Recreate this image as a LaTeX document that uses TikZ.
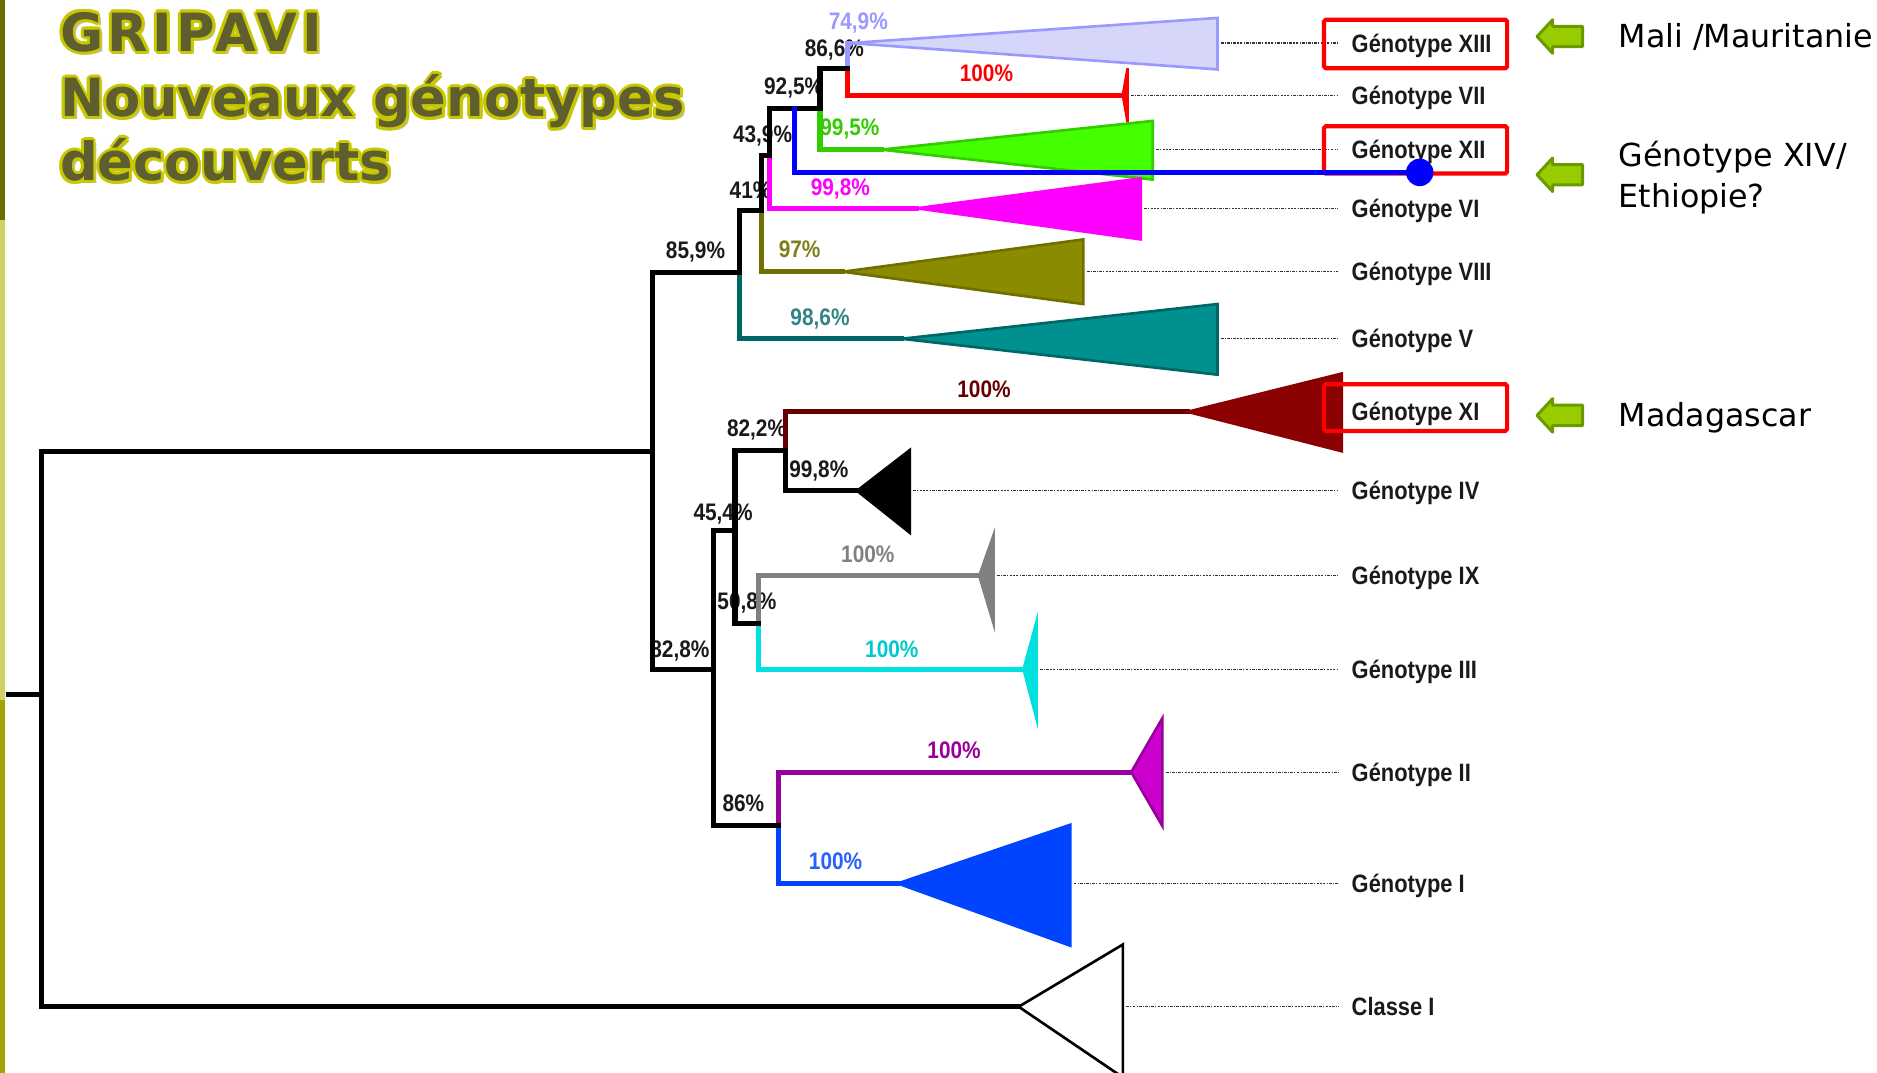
\documentclass[tikz,border=0pt]{standalone}
\usepackage{fontspec}
\usetikzlibrary{calc}
\newfontfamily\genofont{Liberation Sans}[FakeStretch=0.87]
\newfontfamily\titlefont{DejaVu Sans}
\newfontfamily\titlewide{DejaVu Sans}[LetterSpace=8.5]
\newfontfamily\notefont{DejaVu Sans}
\definecolor{olivedark}{HTML}{6B6B00}
\definecolor{olivelight}{HTML}{D0D068}
\definecolor{olivemid}{HTML}{A3A300}
\definecolor{titlefill}{HTML}{5E5E2E}
\definecolor{titleglow}{HTML}{C8C800}
\definecolor{lavline}{HTML}{9999FF}
\definecolor{lavfill}{HTML}{D6D6FA}
\definecolor{grnline}{HTML}{33CC00}
\definecolor{grnfill}{HTML}{44FF00}
\definecolor{magen}{HTML}{FF00FF}
\definecolor{oliveline}{HTML}{707000}
\definecolor{olivefill}{HTML}{8B8B00}
\definecolor{tealline}{HTML}{006666}
\definecolor{tealfill}{HTML}{009090}
\definecolor{dredline}{HTML}{660000}
\definecolor{dredfill}{HTML}{8B0000}
\definecolor{grayb}{HTML}{808080}
\definecolor{cyanb}{HTML}{00E0E0}
\definecolor{purpline}{HTML}{990099}
\definecolor{purpfill}{HTML}{CC00CC}
\definecolor{blueone}{HTML}{0044FF}
\definecolor{bluexiv}{HTML}{0000FF}
\definecolor{arrowfill}{HTML}{99CC00}
\definecolor{arrowline}{HTML}{6B9900}
\definecolor{pctblack}{HTML}{1A1A1A}
\tikzset{
 tree/.style={line width=4.2pt, line cap=rect, line join=miter},
 tri/.style={line width=2.2pt, line join=miter},
 dotl/.style={line width=1pt, black!80, dash pattern=on 2.2pt off 1pt on 1pt off 1pt},
 geno/.style={anchor=base west, inner sep=0pt, font=\genofont\bfseries\fontsize{21}{25}\selectfont, text=pctblack},
 pct/.style={anchor=base, inner sep=0pt, font=\genofont\bfseries\fontsize{20}{24}\selectfont},
 note/.style={anchor=base west, inner sep=0pt, font=\notefont\fontsize{26.5}{32}\selectfont, text=black},
 ttl/.style={anchor=base west, inner sep=0pt, font=\titlefont\bfseries\fontsize{44}{52}\selectfont},
 redbox/.style={draw=red, line width=3.5pt, rounded corners=1.5pt},
 garrow/.style={fill=arrowfill, draw=arrowline, line width=2.5pt, line join=round},
}
\begin{document}
\begin{tikzpicture}[x=1pt,y=-1pt]
\useasboundingbox (0,0) rectangle (1568,896);
% left bar
\fill[olivedark] (0,0) rectangle (4.2,184);
\fill[olivelight] (0,184) rectangle (4.2,585);
\fill[olivemid] (0,585) rectangle (4.2,896);
% title
\foreach \t/\y/\n in {{\titlewide GRIPAVI}/43/ta, Nouveaux génotypes/97.5/tb, découverts/151/tc}{
  \node[ttl, text=black, opacity=0.25] (\n s) at (52.5,\y+2.5) {\t};
  \foreach \a in {0,30,...,330}{
    \node[ttl, text=titleglow] (\n g\a) at ($(50,\y)+(\a:2.4)$) {\t};
  }
  \node[ttl, text=titlefill] (\n) at (50,\y) {\t};
}
% percent labels
\node[pct, text=lavline] (p1) at (717,25) {74,9\%};
\node[pct, text=pctblack] (p2) at (697,47) {86,6\%};
\node[pct, text=red] (p3) at (824,68) {100\%};
\node[pct, text=pctblack] (p4) at (663,79) {92,5\%};
\node[pct, text=grnline] (p5) at (710,113) {99,5\%};
\node[pct, text=pctblack] (p6) at (637,119) {43,9\%};
\node[pct, text=magen] (p7) at (702,163) {99,8\%};
\node[pct, text=pctblack] (p8) at (627,166) {41\%};
\node[pct, text=pctblack] (p9) at (581,216) {85,9\%};
\node[pct, text=oliveline!90!white] (p10) at (668,215) {97\%};
\node[pct, text=tealline!80!white] (p11) at (685,272) {98,6\%};
\node[pct, text=dredline] (p12) at (822,332) {100\%};
\node[pct, text=pctblack] (p13) at (632,365) {82,2\%};
\node[pct, text=pctblack] (p14) at (684,399) {99,8\%};
\node[pct, text=pctblack] (p15) at (604,435) {45,4\%};
\node[pct, text=grayb] (p16) at (725,470) {100\%};
\node[pct, text=pctblack] (p17) at (624,509) {50,8\%};
\node[pct, text=pctblack] (p18) at (568,549) {82,8\%};
\node[pct, text=cyanb!90!black] (p19) at (745,549) {100\%};
\node[pct, text=purpline] (p20) at (797,634) {100\%};
\node[pct, text=pctblack] (p21) at (621,678) {86\%};
\node[pct, text=blueone!85!white] (p22) at (698,726) {100\%};
% coordinates
\coordinate (rs) at (7.5,580);
\coordinate (r) at (35,580);
\coordinate (A) at (545,377);
\coordinate (B) at (618,228);
\coordinate (C) at (636,176);
\coordinate (E) at (643,129.5);
\coordinate (F) at (685,90.5);
\coordinate (X14) at (664,90.5);
\coordinate (G) at (708,57);
\coordinate (D) at (596,559);
\coordinate (H) at (614,443);
\coordinate (J) at (656,376);
\coordinate (L) at (634,521);
\coordinate (K) at (650,690);
\coordinate (aXIII) at (710,36);
\coordinate (aVII) at (938,79.5);
\coordinate (aXII) at (736,125);
\coordinate (aVI) at (766,174);
\coordinate (aVIII) at (704,227);
\coordinate (aV) at (753,283);
\coordinate (aXI) at (992,344);
\coordinate (aIV) at (716,410);
\coordinate (aIX) at (818,481);
\coordinate (aIII) at (855,559);
\coordinate (aII) at (945,645);
\coordinate (aI) at (750,738);
\coordinate (aCl) at (851,841);
% colored branches
\draw[tree, lavline] (G) -- (G |- aXIII) -- (aXIII);
\draw[tree, red] (G) |- (aVII);
\draw[tree, grnline] (F) |- (aXII);
\draw[tree, magen] (E) |- (aVI);
\draw[tree, oliveline] (C) |- (aVIII);
\draw[tree, tealline] (B) |- (aV);
\draw[tree, dredline] (J) |- (aXI);
\draw[tree, grayb] (L) |- (aIX);
\draw[tree, cyanb] (L) |- (aIII);
\draw[tree, purpline] (K) |- (aII);
\draw[tree, blueone] (K) |- (aI);
% black tree
\draw[tree] (rs) -- (r);
\draw[tree] (r) |- (A);
\draw[tree] (r) |- (aCl);
\draw[tree] (A) |- (B);
\draw[tree] (A) |- (D);
\draw[tree] (B) |- (C);
\draw[tree] (C) |- (E);
\draw[tree] (E) |- (F);
\draw[tree] (F) |- (G);
\draw[tree] (D) |- (H);
\draw[tree] (D) |- (K);
\draw[tree] (H) |- (J);
\draw[tree] (H) |- (L);
\draw[tree] (J) |- (aIV);
% triangles
\filldraw[tri, fill=lavfill, draw=lavline] (aXIII) -- (1017,15) -- (1017,58) -- cycle;
\filldraw[tri, fill=red, draw=red] (aVII) -- (942,57) -- (942,102) -- cycle;
\filldraw[tri, fill=grnfill, draw=grnline] (aXII) -- (963,101) -- (963,150) -- cycle;
\filldraw[tri, fill=magen, draw=magen] (aVI) -- (953,149) -- (953,200) -- cycle;
\filldraw[tri, fill=olivefill, draw=oliveline] (aVIII) -- (905,200) -- (905,254) -- cycle;
\filldraw[tri, fill=tealfill, draw=tealline] (aV) -- (1017,254) -- (1017,313) -- cycle;
\filldraw[tri, fill=dredfill, draw=dredfill] (aXI) -- (1121,312) -- (1121,377) -- cycle;
\filldraw[tri, fill=black, draw=black] (aIV) -- (760,376) -- (760,445) -- cycle;
\filldraw[tri, fill=grayb, draw=grayb] (aIX) -- (830,447) -- (830,521) -- cycle;
\filldraw[tri, fill=cyanb, draw=cyanb] (aIII) -- (866,519) -- (866,601) -- cycle;
\filldraw[tri, fill=purpfill, draw=purpline] (aII) -- (971,600) -- (971,690) -- cycle;
\filldraw[tri, fill=blueone, draw=blueone] (aI) -- (894,689) -- (894,790) -- cycle;
\filldraw[tri, fill=white, draw=black] (aCl) -- (938,789) -- (938,900) -- cycle;
% dotted leaders
\draw[dotl] (1020,36) -- (1118,36);
\draw[dotl] (945,79.5) -- (1118,79.5);
\draw[dotl] (966,125) -- (1118,125);
\draw[dotl] (956,174) -- (1118,174);
\draw[dotl] (908,227) -- (1118,227);
\draw[dotl] (1020,283) -- (1118,283);
\draw[dotl] (763,410) -- (1118,410);
\draw[dotl] (833,481) -- (1118,481);
\draw[dotl] (869,559) -- (1118,559);
\draw[dotl] (974,645) -- (1118,645);
\draw[dotl] (897,738) -- (1118,738);
\draw[dotl] (941,841) -- (1118,841);
% genotype labels
\node[geno] (gXIII) at (1129,43.5) {Génotype XIII};
\node[geno] (gVII) at (1129,87) {Génotype VII};
\node[geno] (gXII) at (1129,132.5) {Génotype XII};
\node[geno] (gVI) at (1129,181.5) {Génotype VI};
\node[geno] (gVIII) at (1129,234.5) {Génotype VIII};
\node[geno] (gV) at (1129,290.5) {Génotype V};
\node[geno] (gXI) at (1129,351.5) {Génotype XI};
\node[geno] (gIV) at (1129,417.5) {Génotype IV};
\node[geno] (gIX) at (1129,488.5) {Génotype IX};
\node[geno] (gIII) at (1129,566.5) {Génotype III};
\node[geno] (gII) at (1129,652.5) {Génotype II};
\node[geno] (gI) at (1129,745.5) {Génotype I};
\node[geno] (gCl) at (1129,848.5) {Classe I};
% red boxes
\draw[redbox] (1106,16.5) rectangle (1259,57);
\draw[redbox] (1106,105.5) rectangle (1259,145);
\draw[redbox] (1106,321) rectangle (1259,360);
% XIV branch and dot
\node[circle, fill=bluexiv, minimum size=23pt, inner sep=0pt] (dot14) at (1186,144) {};
\draw[tree, bluexiv] (X14) |- (dot14.center);
% green arrows
\foreach \cy/\n in {30.5/ar1, 146/ar2, 347/ar3}{
  \begin{scope}[shift={(1303,\cy)}]
    \filldraw[garrow] (-19,0) -- (-6,-14) -- (-6,-8.5) -- (19,-8.5) -- (19,8.5) -- (-6,8.5) -- (-6,14) -- cycle;
  \end{scope}
}
% right notes
\node[note] (n1) at (1352,40) {Mali /Mauritanie};
\node[note] (n2) at (1352,139) {Génotype XIV/};
\node[note] (n3) at (1352,173) {Ethiopie?};
\node[note] (n4) at (1352,356) {Madagascar};
\end{tikzpicture}
\end{document}
